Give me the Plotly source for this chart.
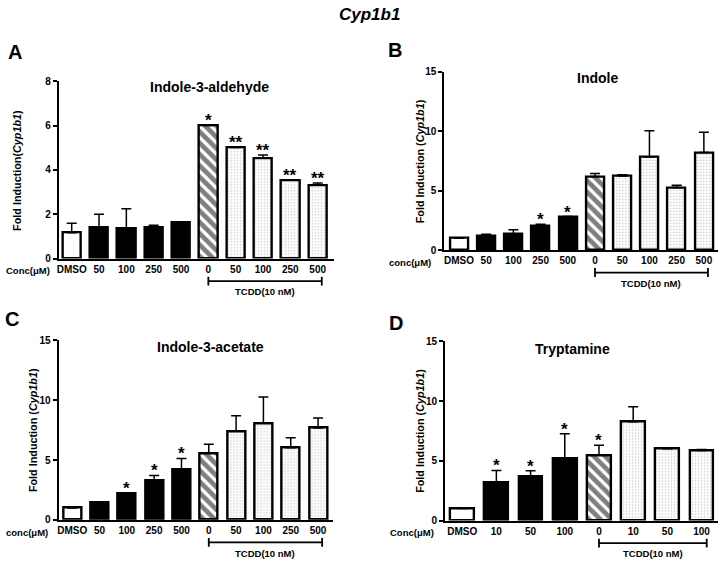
import plotly.graph_objects as go

# ---------------- data ----------------
A_labels = ["DMSO", "50", "100", "250", "500", "0", "50", "100", "250", "500"]
A_group = ["veh", "cmp", "cmp", "cmp", "cmp", "tcdd", "mix", "mix", "mix", "mix"]
A_mean = [1.16, 1.40, 1.37, 1.40, 1.62, 6.01, 5.01, 4.54, 3.53, 3.31]
A_err = [0.43, 0.60, 0.88, 0.10, 0.02, 0.03, 0.03, 0.14, 0.03, 0.10]
A_sig = ["", "", "", "", "", "*", "**", "**", "**", "**"]

B_labels = ["DMSO", "50", "100", "250", "500", "0", "50", "100", "250", "500"]
B_group = ["veh", "cmp", "cmp", "cmp", "cmp", "tcdd", "mix", "mix", "mix", "mix"]
B_mean = [1.0, 1.22, 1.37, 2.06, 2.80, 6.18, 6.24, 7.83, 5.27, 8.21]
B_err = [0.0, 0.10, 0.33, 0.10, 0.02, 0.27, 0.10, 2.22, 0.19, 1.71]
B_sig = ["", "", "", "*", "*", "", "", "", "", ""]

C_labels = ["DMSO", "50", "100", "250", "500", "0", "50", "100", "250", "500"]
C_group = ["veh", "cmp", "cmp", "cmp", "cmp", "tcdd", "mix", "mix", "mix", "mix"]
C_mean = [1.0, 1.45, 2.22, 3.32, 4.22, 5.56, 7.41, 8.07, 6.02, 7.69]
C_err = [0.0, 0.07, 0.02, 0.39, 0.92, 0.76, 1.29, 2.20, 0.85, 0.82]
C_sig = ["", "", "*", "*", "*", "", "", "", "", ""]

D_labels = ["DMSO", "10", "50", "100", "0", "10", "50", "100"]
D_group = ["veh", "cmp", "cmp", "cmp", "tcdd", "mix", "mix", "mix"]
D_mean = [1.0, 3.22, 3.71, 5.24, 5.49, 8.28, 6.01, 5.87]
D_err = [0.0, 0.98, 0.47, 2.02, 0.82, 1.25, 0.03, 0.08]
D_sig = ["", "*", "*", "*", "*", "", "", ""]

panel_titles = ["Indole-3-aldehyde", "Indole", "Indole-3-acetate", "Tryptamine"]
panel_letters = ["A", "B", "C", "D"]
y_titles = ["Fold Induction(<i>Cyp1b1</i>)", "Fold Induction (<i>Cyp1b1</i>)",
            "Fold Induction (<i>Cyp1b1</i>)", "Fold Induction (<i>Cyp1b1</i>)"]
conc_labels = ["Conc(\u03bcM)", "conc(\u03bcM)", "conc(\u03bcM)", "Conc(\u03bcM)"]
y_ticks = [[0, 2, 4, 6, 8], [0, 5, 10, 15], [0, 5, 10, 15], [0, 5, 10, 15]]
y_max = [8, 15, 15, 15]
bracket_label = "TCDD(10 nM)"
main_title = "<i>Cyp1b1</i>"

# ---------------- geometry (pixels) ----------------
W, H = 721, 566
FONT = "Arial, Liberation Sans, sans-serif"


def fx(px):
    return px / W


def fy(py):
    return 1 - py / H


geo = [
    dict(l=57, r=333, t=77, b=258, xr=(-0.47, 9.6), letter=(13, 47), title=(208, 83), ytx=15, concx=26),
    dict(l=443.5, r=718, t=67.3, b=249.3, xr=(-0.54, 9.52), letter=(394, 45), title=(597, 74), ytx=419.5, concx=409),
    dict(l=56.7, r=332, t=341.7, b=525, xr=(-0.5, 9.55), letter=(10, 320), title=(209, 348), ytx=31, concx=25),
    dict(l=444.3, r=718, t=342.7, b=525.7, xr=(-0.5, 7.48), letter=(395, 324), title=(572, 350), ytx=419, concx=411),
]

panels = [
    (A_labels, A_group, A_mean, A_err, A_sig),
    (B_labels, B_group, B_mean, B_err, B_sig),
    (C_labels, C_group, C_mean, C_err, C_sig),
    (D_labels, D_group, D_mean, D_err, D_sig),
]

styles = {
    "veh": dict(color="white", pattern=None),
    "cmp": dict(color="black", pattern=None),
    "tcdd": dict(color="white", pattern=dict(shape="\\", size=8, solidity=0.6,
                                              fgcolor="black", bgcolor="white")),
    "mix": dict(color="white", pattern=dict(shape=".", size=3, solidity=0.2,
                                             fgcolor="#8a8a8a", bgcolor="white")),
}

fig = go.Figure()
annotations = []
shapes = []

for k, (labels, group, mean, err, sig) in enumerate(panels):
    g = geo[k]
    n = k + 1
    xa = "x" if n == 1 else f"x{n}"
    ya = "y" if n == 1 else f"y{n}"
    xs = list(range(len(labels)))
    for gname in ["veh", "cmp", "tcdd", "mix"]:
        idx = [i for i in xs if group[i] == gname]
        if not idx:
            continue
        st = styles[gname]
        marker = dict(color=st["color"], line=dict(color="black", width=2.4))
        if st["pattern"]:
            marker["pattern"] = st["pattern"]
        fig.add_trace(go.Bar(
            x=idx, y=[mean[i] for i in idx],
            width=0.66 if len(labels) == 10 else 0.7,
            marker=marker,
            error_y=dict(type="data", symmetric=False,
                         array=[err[i] for i in idx],
                         arrayminus=[0 for _ in idx],
                         color="black", thickness=1.5, width=5),
            xaxis=xa, yaxis=ya, showlegend=False, hoverinfo="skip",
        ))
    axkey = "xaxis" if n == 1 else f"xaxis{n}"
    aykey = "yaxis" if n == 1 else f"yaxis{n}"
    fig.layout[axkey] = dict(
        domain=[fx(g["l"]), fx(g["r"])], anchor=ya, range=list(g["xr"]),
        tickmode="array", tickvals=xs, ticktext=labels, ticks="",
        showline=True, linecolor="black", linewidth=2, showgrid=False, zeroline=False,
        tickfont=dict(family=FONT, size=10, color="black", weight="bold"),
        fixedrange=True,
    )
    fig.layout[aykey] = dict(
        domain=[fy(g["b"]), fy(g["t"])], anchor=xa, range=[0, y_max[k]],
        tickmode="array", tickvals=y_ticks[k], ticks="outside", ticklen=4, tickwidth=1.5,
        tickcolor="black", showline=True, linecolor="black", linewidth=2,
        showgrid=False, zeroline=False,
        tickfont=dict(family=FONT, size=10, color="black", weight="bold"),
        fixedrange=True,
    )
    for i in xs:
        if sig[i]:
            annotations.append(dict(
                x=i, y=mean[i] + err[i], xref=xa, yref=ya, text=sig[i], showarrow=False,
                yanchor="bottom", xanchor="center", yshift=-7,
                font=dict(family=FONT, size=17, color="black", weight="bold")))
    tc = [i for i in xs if group[i] in ("tcdd", "mix")]
    x0, x1 = min(tc), max(tc) + 0.15
    yb = fy(g["b"] + 23)
    shapes.append(dict(type="line", xref=xa, yref="paper", x0=x0, x1=x1, y0=yb, y1=yb,
                       line=dict(color="black", width=1.8)))
    for xe in (x0, x1):
        shapes.append(dict(type="line", xref=xa, yref="paper", x0=xe, x1=xe,
                           y0=yb - 4.5 / H, y1=yb + 4.5 / H, line=dict(color="black", width=1.8)))
    annotations.append(dict(x=(x0 + x1) / 2, y=fy(g["b"] + 34), xref=xa, yref="paper",
                            text=bracket_label, showarrow=False, xanchor="center", yanchor="middle",
                            font=dict(family=FONT, size=9.5, color="black", weight="bold")))
    annotations.append(dict(x=fx(g["concx"]), y=fy(g["b"] + 12.5), xref="paper", yref="paper",
                            text=conc_labels[k], showarrow=False, xanchor="center", yanchor="middle",
                            font=dict(family=FONT, size=9.5, color="black", weight="bold")))
    annotations.append(dict(x=fx(g["title"][0]), y=fy(g["title"][1]), xref="paper", yref="paper",
                            text=panel_titles[k], showarrow=False, xanchor="center", yanchor="middle",
                            font=dict(family=FONT, size=14, color="black", weight="bold")))
    annotations.append(dict(x=fx(g["letter"][0]), y=fy(g["letter"][1]), xref="paper", yref="paper",
                            text=panel_letters[k], showarrow=False, xanchor="center", yanchor="middle",
                            font=dict(family=FONT, size=20, color="black", weight="bold")))
    annotations.append(dict(x=fx(g["ytx"]), y=fy((g["t"] + g["b"]) / 2), xref="paper", yref="paper",
                            text=y_titles[k], showarrow=False, textangle=-90,
                            xanchor="center", yanchor="middle",
                            font=dict(family=FONT, size=10.8, color="black", weight="bold")))

annotations.append(dict(x=fx(369), y=fy(9), xref="paper", yref="paper", text=main_title,
                        showarrow=False, xanchor="center", yanchor="middle",
                        font=dict(family=FONT, size=17, color="black", weight="bold")))

fig.update_layout(
    width=W, height=H, margin=dict(l=0, r=0, t=0, b=0),
    paper_bgcolor="white", plot_bgcolor="white",
    barmode="overlay", bargap=0,
    annotations=annotations, shapes=shapes,
    font=dict(family=FONT, color="black"),
)

fig.write_html(
    "out.html",
    config={"displayModeBar": False},
    post_script="document.documentElement.style.margin='0';document.body.style.margin='0';"
                "document.body.style.padding='0';document.body.style.overflow='hidden';",
)
